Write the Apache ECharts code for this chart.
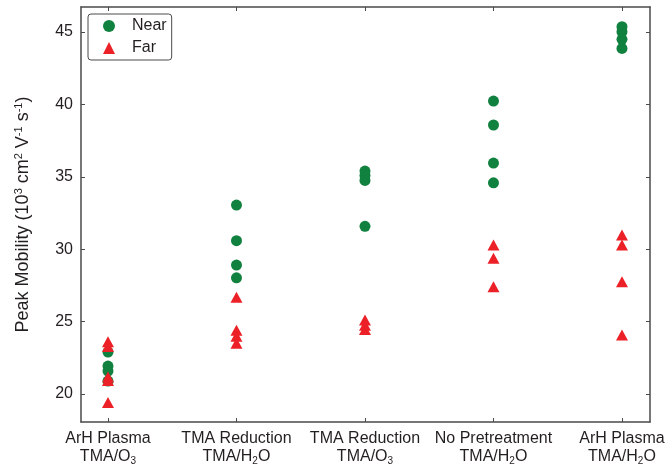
<!DOCTYPE html>
<html>
<head>
<meta charset="utf-8">
<script src="https://cdn.jsdelivr.net/npm/echarts@6/dist/echarts.min.js"></script>
<style>
  html, body { margin: 0; padding: 0; background: #fff; }
  #chart { width: 668px; height: 466px; }
</style>
</head>
<body>
<div id="chart"></div>
<script>
// Treatment groups: first line is the pretreatment, second the ALD chemistry
const groupNames = ['ArH Plasma', 'TMA Reduction', 'TMA Reduction', 'No Pretreatment', 'ArH Plasma'];
const groupChem = ['TMA/O{sub|3}', 'TMA/H{sub|2}O', 'TMA/O{sub|3}', 'TMA/H{sub|2}O', 'TMA/H{sub|2}O'];

// Peak mobility (10^3 cm^2 V^-1 s^-1) per group
const nearValues = [
  [22.9, 21.93, 21.59, 20.9],
  [33.05, 30.59, 28.91, 28.03],
  [35.4, 35.1, 34.75, 31.58],
  [40.23, 38.58, 35.95, 34.59],
  [45.37, 45.02, 44.5, 43.87]
];
const farValues = [
  [23.62, 23.28, 21.17, 20.93, 19.41],
  [26.68, 24.4, 24.0, 23.5],
  [25.11, 24.75, 24.45],
  [30.29, 29.37, 27.41],
  [30.98, 30.29, 27.76, 24.07]
];
const yTicks = [20, 25, 30, 35, 40, 45];
const groupPositions = [1, 2, 3, 4, 5];

const toPoints = (groups) => {
  const pts = [];
  groups.forEach((vals, i) => vals.forEach(v => pts.push([groupPositions[i], v])));
  return pts;
};

const axisColor = '#4a4a4a';
const textColor = '#231f20';
const fontFamily = '"Liberation Sans", Arial, Helvetica, sans-serif';

const chart = echarts.init(document.getElementById('chart'), null, { renderer: 'canvas' });

const xMin = 0.79, xMax = 5.218;
const yMin = 18.07, yMax = 46.73;

const option = {
  animation: false,
  textStyle: { fontFamily: fontFamily },
  grid: { left: 81, right: 18, top: 7, bottom: 44, containLabel: false },
  legend: {
    orient: 'vertical',
    left: 88,
    top: 14,
    padding: [4, 5, 4, 15],
    itemGap: 6,
    itemWidth: 12,
    itemHeight: 12,
    borderColor: '#4a4a4a',
    borderWidth: 1,
    borderRadius: 3,
    textStyle: { fontSize: 16, color: textColor, fontFamily: fontFamily, padding: [0, 0, 0, 12] },
    data: ['Near', 'Far']
  },
  xAxis: [
    {
      type: 'value', min: xMin, max: xMax, position: 'bottom',
      splitLine: { show: false },
      axisLine: { lineStyle: { color: axisColor, width: 1.5 } },
      axisTick: { inside: true, length: 4, customValues: groupPositions, lineStyle: { color: axisColor } },
      axisLabel: {
        customValues: groupPositions,
        margin: 8,
        fontSize: 16,
        color: textColor,
        lineHeight: 18,
        formatter: (v) => {
          const i = Math.round(v) - 1;
          return groupNames[i] + '\n' + groupChem[i];
        },
        rich: {
          sub: { fontSize: 10, padding: [8, 0, 0, 0], color: textColor }
        }
      }
    },
    {
      type: 'value', min: xMin, max: xMax, position: 'top',
      splitLine: { show: false },
      axisLine: { lineStyle: { color: axisColor, width: 1.5 } },
      axisTick: { inside: true, length: 4, customValues: groupPositions, lineStyle: { color: axisColor } },
      axisLabel: { show: false }
    }
  ],
  yAxis: [
    {
      type: 'value', min: yMin, max: yMax, position: 'left',
      name: 'Peak Mobility (10{sup|3} cm{sup|2} V{sup|-1} s{sup|-1})',
      nameLocation: 'middle',
      nameGap: 48,
      nameRotate: 90,
      nameTextStyle: {
        fontSize: 18, color: textColor,
        rich: { sup: { fontSize: 11, padding: [0, 0, 9, 0], color: textColor } }
      },
      splitLine: { show: false },
      axisLine: { lineStyle: { color: axisColor, width: 1.5 } },
      axisTick: { inside: true, length: 4, customValues: yTicks, lineStyle: { color: axisColor } },
      axisLabel: { customValues: yTicks, fontSize: 16, color: textColor, margin: 8 }
    },
    {
      type: 'value', min: yMin, max: yMax, position: 'right',
      splitLine: { show: false },
      axisLine: { lineStyle: { color: axisColor, width: 1.5 } },
      axisTick: { inside: true, length: 4, customValues: yTicks, lineStyle: { color: axisColor } },
      axisLabel: { show: false }
    }
  ],
  series: [
    {
      name: 'Near', type: 'scatter', symbol: 'circle', symbolSize: 11,
      itemStyle: { color: '#11813f', opacity: 1 },
      data: toPoints(nearValues)
    },
    {
      name: 'Far', type: 'scatter', symbol: 'triangle', symbolSize: [12, 11],
      itemStyle: { color: '#ec2027', opacity: 1 },
      data: toPoints(farValues)
    }
  ]
};

chart.setOption(option);
</script>
</body>
</html>
